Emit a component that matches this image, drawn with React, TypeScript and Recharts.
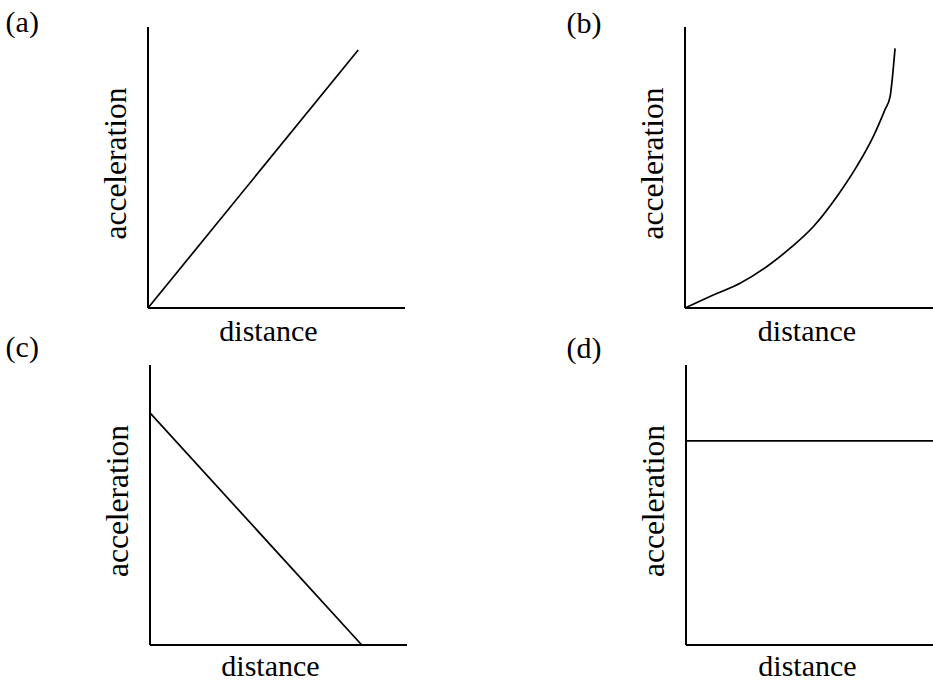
// Four sketch graphs: acceleration against distance, panels (a)-(d)
import { LineChart, Line, XAxis, YAxis, Label } from "recharts";

const xTitle = "distance";
const yTitle = "acceleration";
const panelTags = ["(a)", "(b)", "(c)", "(d)"];

// (a) straight line through the origin
const riseDistance = [0, 8.18];
const riseAccel = [0, 9.18];

// (b) curve bending upward
const curveDistance = [0, 1.14, 2.22, 3.29, 4.23, 5.17, 6.12, 6.92, 7.59, 8.06, 8.27, 8.38, 8.47];
const curveAccel = [0, 0.46, 0.88, 1.47, 2.12, 2.89, 3.96, 5.03, 6.1, 7.05, 7.52, 8.35, 9.24];

// (c) falling straight line
const fallDistance = [0, 8.24];
const fallAccel = [8.29, 0];

// (d) constant
const flatDistance = [0, 10];
const flatAccel = [7.29, 7.29];

const zip = (xs: number[], ys: number[]) => xs.map((d, i) => ({ d, a: ys[i] }));

const FONT = "'Liberation Serif', 'Times New Roman', serif";
const INK = "#000";

type PanelProps = {
  rows: { d: number; a: number }[];
  curved?: boolean;
  left: number;
  top: number;
  width: number;
  height: number;
  margin: { top: number; right: number; bottom: number; left: number };
  xShift: number;
  xDrop: number;
  yShift: number;
};

function Panel({ rows, curved, left, top, width, height, margin, xShift, xDrop, yShift }: PanelProps) {
  return (
    <div style={{ position: "absolute", left, top }}>
      <LineChart width={width} height={height} data={rows} margin={margin} style={{ fontFamily: FONT }}>
        <XAxis
          type="number"
          dataKey="d"
          domain={[0, 10]}
          tick={false}
          tickLine={false}
          height={30}
          axisLine={{ stroke: INK, strokeWidth: 2 }}
        >
          <Label
            content={(p: any) => {
              const vb = p.viewBox || {};
              return (
                <text
                  x={vb.x + vb.width / 2 + xShift}
                  y={vb.y + xDrop}
                  textAnchor="middle"
                  style={{ fontFamily: FONT, fontSize: 30 }}
                  fill={INK}
                >
                  {xTitle}
                </text>
              );
            }}
          />
        </XAxis>
        <YAxis
          type="number"
          domain={[0, 10]}
          tick={false}
          tickLine={false}
          width={50}
          axisLine={{ stroke: INK, strokeWidth: 2 }}
        >
          <Label
            content={(p: any) => {
              const vb = p.viewBox || {};
              const bx = vb.x + vb.width - 22;
              const cy = vb.y + vb.height / 2 + yShift;
              return (
                <text
                  transform={`translate(${bx},${cy}) rotate(-90)`}
                  x={0}
                  y={0}
                  textAnchor="middle"
                  style={{ fontFamily: FONT, fontSize: 31.5 }}
                  fill={INK}
                >
                  {yTitle}
                </text>
              );
            }}
          />
        </YAxis>
        <Line
          type={curved ? "monotone" : "linear"}
          dataKey="a"
          stroke={INK}
          strokeWidth={1.7}
          dot={false}
          activeDot={false}
          isAnimationActive={false}
        />
      </LineChart>
    </div>
  );
}

const tagStyle = (left: number, top: number): React.CSSProperties => ({
  position: "absolute",
  left,
  top,
  fontFamily: FONT,
  fontSize: 30,
  lineHeight: "30px",
  color: INK,
  whiteSpace: "nowrap",
});

export default function App() {
  return (
    <div style={{ position: "fixed", left: 0, top: 0, width: 933, height: 682, background: "#fff", overflow: "hidden", fontFamily: FONT }}>
      <Panel
        rows={zip(riseDistance, riseAccel)}
        left={0}
        top={0}
        width={420}
        height={352}
        margin={{ top: 27, right: 15, bottom: 14, left: 98 }}
        xShift={-8}
        xDrop={33}
        yShift={-4}
      />
      <Panel
        rows={zip(curveDistance, curveAccel)}
        curved
        left={540}
        top={0}
        width={393}
        height={352}
        margin={{ top: 27, right: 0, bottom: 14, left: 95 }}
        xShift={-2}
        xDrop={33}
        yShift={-4}
      />
      <Panel
        rows={zip(fallDistance, fallAccel)}
        left={0}
        top={340}
        width={420}
        height={342}
        margin={{ top: 25, right: 13, bottom: 7, left: 100 }}
        xShift={-8}
        xDrop={30.5}
        yShift={-4}
      />
      <Panel
        rows={zip(flatDistance, flatAccel)}
        left={540}
        top={340}
        width={393}
        height={342}
        margin={{ top: 25, right: 0, bottom: 7, left: 96 }}
        xShift={-2}
        xDrop={30.5}
        yShift={-4}
      />
      <div style={tagStyle(5.6, 6.6)}>{panelTags[0]}</div>
      <div style={tagStyle(566.5, 7.6)}>{panelTags[1]}</div>
      <div style={tagStyle(5.6, 331.6)}>{panelTags[2]}</div>
      <div style={tagStyle(566.5, 332.6)}>{panelTags[3]}</div>
    </div>
  );
}
